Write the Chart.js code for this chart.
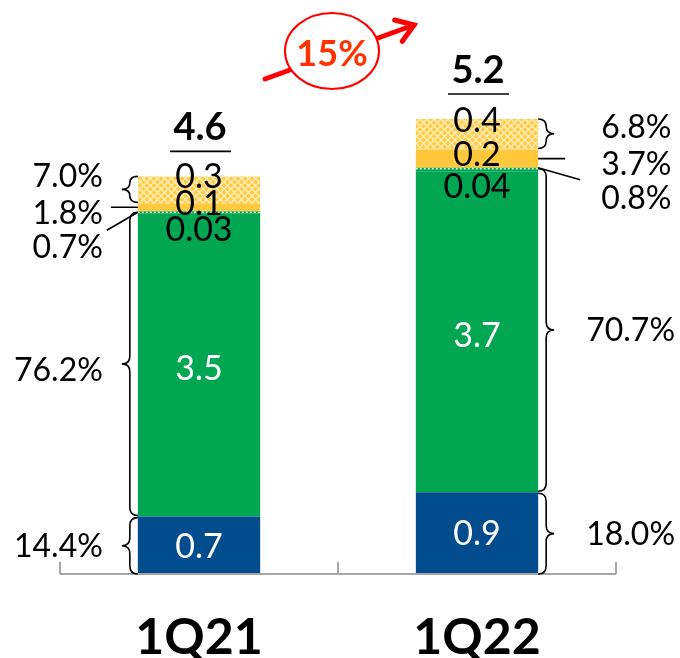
<!DOCTYPE html>
<html><head><meta charset="utf-8">
<script src="https://cdn.jsdelivr.net/npm/chart.js@4.4.1/dist/chart.umd.min.js"></script>
<style>html,body{margin:0;padding:0;background:#fff;} #wrap{width:680px;height:658px;position:relative;}</style>
</head><body><div id="wrap"><canvas id="c" width="680" height="658"></canvas></div>
<script>
const categories = ['1Q21', '1Q22'];
const valuesBlue = [0.66, 0.94];
const valuesGreen = [3.48, 3.69];
const valuesLightGreen = [0.03, 0.04];
const valuesYellow = [0.09, 0.21];
const valuesHatched = [0.31, 0.35];
const labelsBlue = ['0.7', '0.9'];
const labelsGreen = ['3.5', '3.7'];
const labelsLightGreen = ['0.03', '0.04'];
const labelsYellow = ['0.1', '0.2'];
const labelsHatched = ['0.3', '0.4'];
const totalLabels = ['4.6', '5.2'];
const shareBlue = ['14.4%', '18.0%'];
const shareGreen = ['76.2%', '70.7%'];
const shareLightGreen = ['0.7%', '0.8%'];
const shareYellow = ['1.8%', '3.7%'];
const shareHatched = ['7.0%', '6.8%'];
const growthLabel = '15%';

const FONT = 'Lato, "Open Sans", sans-serif';
const BLUE = '#004C8C', GREEN = '#00A651', YELLOW = '#FFC83D';

function makeHatch() {
  const t = document.createElement('canvas');
  t.width = 7; t.height = 7;
  const g = t.getContext('2d');
  g.fillStyle = '#FFCB45'; g.fillRect(0, 0, 7, 7);
  g.strokeStyle = '#FFEDB8'; g.lineWidth = 1.4;
  g.beginPath(); g.moveTo(0, 0); g.lineTo(7, 7); g.moveTo(7, 0); g.lineTo(0, 7); g.stroke();
  return g.createPattern(t, 'repeat');
}

function brace(ctx, x0, dir, y1, y2) {
  const xv = x0 + dir * 8, xt = x0 + dir * 16;
  const ym = (y1 + y2) / 2;
  const r = Math.min(8, (y2 - y1) / 4);
  ctx.beginPath();
  ctx.moveTo(x0, y1);
  ctx.quadraticCurveTo(xv, y1, xv, y1 + r);
  ctx.lineTo(xv, ym - r);
  ctx.quadraticCurveTo(xv, ym, xt, ym);
  ctx.quadraticCurveTo(xv, ym, xv, ym + r);
  ctx.lineTo(xv, y2 - r);
  ctx.quadraticCurveTo(xv, y2, x0, y2);
  ctx.stroke();
}

function txt(ctx, s, x, yc, size, color, align, bold) {
  ctx.font = (bold ? 'bold ' : '') + size + 'px ' + FONT;
  ctx.fillStyle = color;
  ctx.textAlign = align;
  ctx.textBaseline = 'alphabetic';
  ctx.fillText(s, x, yc + size * 0.36);
}

const annot = {
  id: 'annot',
  afterDatasetsDraw(chart) {
    const ctx = chart.ctx;
    const md = d => chart.getDatasetMeta(d).data;
    ctx.save();
    categories.forEach((c, i) => {
      const b = md(0)[i], g = md(1)[i], l = md(2)[i], y = md(3)[i], h = md(4)[i];
      ctx.strokeStyle = 'rgba(255,255,255,0.85)';
      ctx.lineWidth = 1.5;
      ctx.setLineDash([2, 2]);
      ctx.beginPath();
      ctx.moveTo(l.x - l.width / 2, l.y + 1); ctx.lineTo(l.x + l.width / 2, l.y + 1);
      ctx.stroke();
      ctx.setLineDash([]);
      const mid = e => (e.y + e.base) / 2;
      txt(ctx, labelsBlue[i], b.x, mid(b), 34, '#fff', 'center');
      txt(ctx, labelsGreen[i], g.x, mid(g) + 3, 34, '#fff', 'center');
      txt(ctx, labelsLightGreen[i], l.x, mid(l) + 16, 34, '#000', 'center');
      txt(ctx, labelsYellow[i], y.x, mid(y) - 5, 34, '#000', 'center');
      txt(ctx, labelsHatched[i], h.x, mid(h) - 14, 34, '#000', 'center');
    });
    ctx.restore();
  },
  afterDraw(chart) {
    const ctx = chart.ctx;
    const ca = chart.chartArea;
    const xs = chart.scales.x, ys = chart.scales.y;
    const md = d => chart.getDatasetMeta(d).data;
    ctx.save();
    ctx.strokeStyle = '#A6A6A6'; ctx.lineWidth = 2;
    const xm = (xs.getPixelForValue(0) + xs.getPixelForValue(1)) / 2;
    ctx.beginPath();
    ctx.moveTo(ca.left, ca.bottom); ctx.lineTo(ca.right, ca.bottom);
    [ca.left, xm, ca.right].forEach(x => { ctx.moveTo(x, ca.bottom); ctx.lineTo(x, ca.bottom - 12); });
    ctx.stroke();

    ctx.strokeStyle = '#000'; ctx.lineWidth = 1.6;
    categories.forEach((c, i) => {
      const b = md(0)[i], g = md(1)[i], l = md(2)[i], y = md(3)[i], h = md(4)[i];
      const dir = i === 0 ? -1 : 1;
      const x0 = b.x + dir * b.width / 2;
      const ymid = (y.y + y.base) / 2;
      brace(ctx, x0, dir, h.y, h.base - 1);
      brace(ctx, x0, dir, l.y + 1, g.base - 1);
      brace(ctx, x0, dir, b.y + 1, b.base);
      ctx.beginPath();
      ctx.moveTo(x0, ymid); ctx.lineTo(x0 + dir * 27, ymid);
      if (dir < 0) { ctx.moveTo(x0, l.y + 1); ctx.lineTo(x0 - 31, l.y + 19); }
      else { ctx.moveTo(x0, l.y); ctx.lineTo(x0 + 42, l.y + 12); }
      ctx.stroke();
      const align = dir < 0 ? 'right' : 'left';
      const xSmall = dir < 0 ? x0 - 35 : x0 + 63;
      const xBig = dir < 0 ? x0 - 35 : x0 + 48;
      txt(ctx, shareHatched[i], xSmall, ymid - 32, 32, '#000', align);
      txt(ctx, shareYellow[i], xSmall, ymid + 5, 32, '#000', align);
      txt(ctx, shareLightGreen[i], xSmall, ymid + 39, 32, '#000', align);
      txt(ctx, shareGreen[i], xBig, (l.y + g.base) / 2 + (dir < 0 ? 6 : 0), 32, '#000', align);
      txt(ctx, shareBlue[i], xBig, (b.y + b.base) / 2, 32, '#000', align);
      txt(ctx, totalLabels[i], b.x + 1, h.y - 50, 38, '#000', 'center', true);
      ctx.beginPath();
      ctx.moveTo(b.x - 29, h.y - 25); ctx.lineTo(b.x + 32, h.y - 25);
      ctx.stroke();
    });

    const top = ys.getPixelForValue(6);
    const sx = xm - 73, sy = top + 27, tx = xm + 76, ty = top - 27;
    ctx.strokeStyle = '#FF0000'; ctx.lineWidth = 5; ctx.lineCap = 'round';
    ctx.beginPath(); ctx.moveTo(sx, sy); ctx.lineTo(tx, ty); ctx.stroke();
    const ang = Math.atan2(ty - sy, tx - sx);
    ctx.beginPath();
    ctx.moveTo(tx - 20 * Math.cos(ang - 0.6), ty - 20 * Math.sin(ang - 0.6));
    ctx.lineTo(tx, ty);
    ctx.lineTo(tx - 20 * Math.cos(ang + 0.6), ty - 20 * Math.sin(ang + 0.6));
    ctx.stroke();
    ctx.lineCap = 'butt';
    ctx.beginPath();
    ctx.ellipse(xm - 6, top - 1, 47, 38, 0, 0, Math.PI * 2);
    ctx.fillStyle = '#fff'; ctx.fill();
    ctx.lineWidth = 2; ctx.strokeStyle = '#FF0000'; ctx.stroke();
    txt(ctx, growthLabel, xm - 6, top + 1, 36, '#FF3300', 'center', true);
    ctx.restore();
  }
};

const hatch = makeHatch();
new Chart(document.getElementById('c'), {
  type: 'bar',
  data: {
    labels: categories,
    datasets: [
      { label: 'blue', data: valuesBlue, backgroundColor: BLUE },
      { label: 'green', data: valuesGreen, backgroundColor: GREEN },
      { label: 'lightgreen', data: valuesLightGreen, backgroundColor: GREEN },
      { label: 'yellow', data: valuesYellow, backgroundColor: YELLOW },
      { label: 'hatched', data: valuesHatched, backgroundColor: hatch }
    ]
  },
  options: {
    responsive: false,
    animation: false,
    devicePixelRatio: 1,
    layout: { padding: { left: 60, right: 64, top: 52, bottom: 0 } },
    datasets: { bar: { categoryPercentage: 1, barPercentage: 0.44, borderWidth: 0, borderSkipped: false } },
    plugins: { legend: { display: false }, tooltip: { enabled: false } },
    scales: {
      x: {
        stacked: true,
        grid: { display: false, drawTicks: false },
        border: { display: false },
        ticks: { color: '#000', font: { family: FONT, size: 50, weight: 'bold' }, padding: 34 },
        afterFit(scale) { scale.height = 84; }
      },
      y: { stacked: true, display: false, min: 0, max: 6 }
    }
  },
  plugins: [annot]
});
</script>
</body></html>
